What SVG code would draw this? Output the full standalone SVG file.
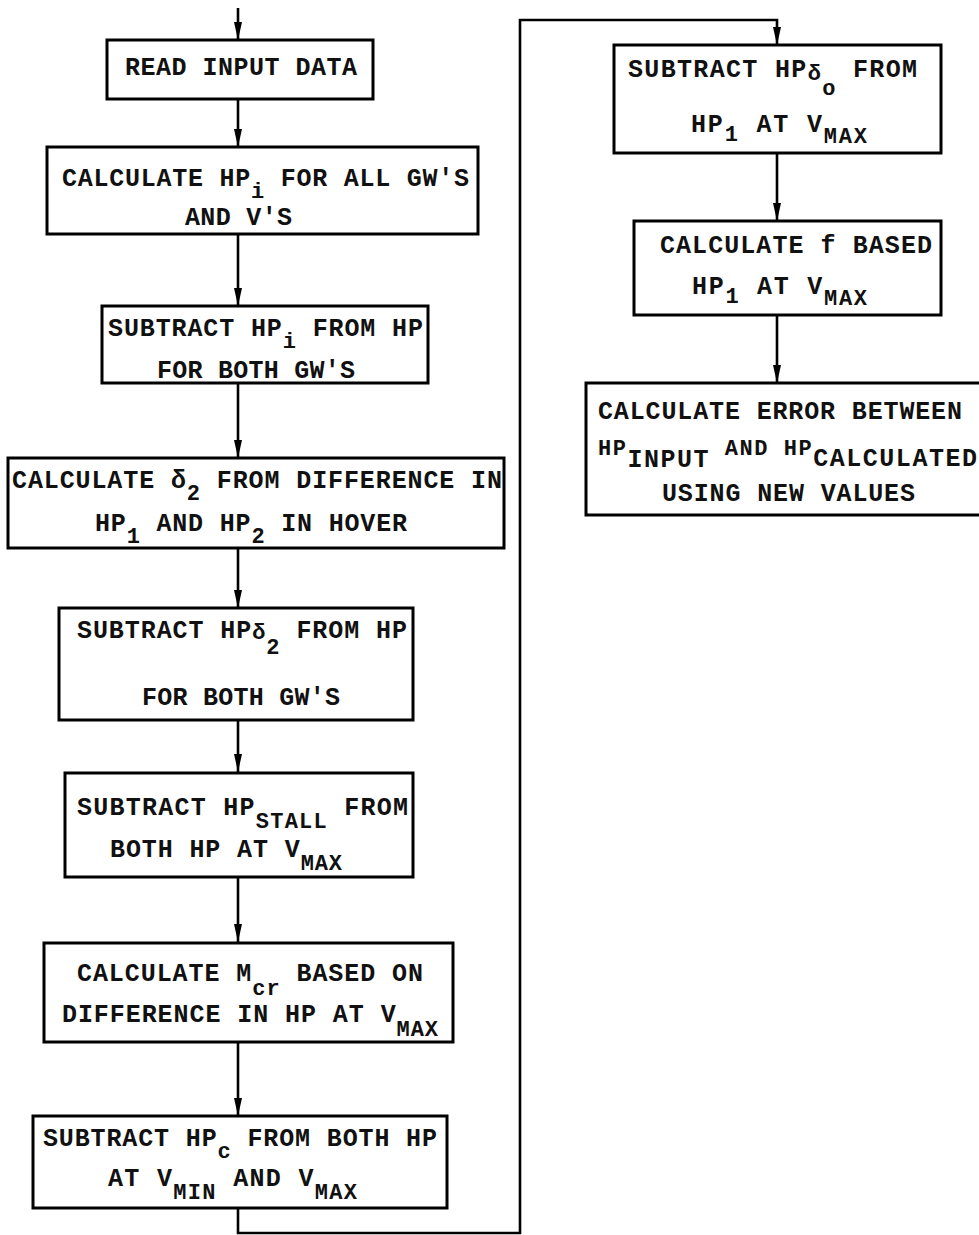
<svg xmlns="http://www.w3.org/2000/svg" width="979" height="1235" viewBox="0 0 979 1235">
<style>
.box{fill:#fff;stroke:#000;stroke-width:3}
.t{font-family:"Liberation Mono","DejaVu Sans Mono",monospace;font-size:25px;font-weight:bold;fill:#111}
.s{font-size:22px}
.c{fill:none;stroke:#000;stroke-width:2.6}
</style>
<defs>
<marker id="ah" viewBox="0 0 18 8" refX="18" refY="4" markerWidth="18" markerHeight="8" markerUnits="userSpaceOnUse" orient="auto">
<path d="M0,0 L18,4 L0,8 Z" fill="#000"/>
</marker>
</defs>
<rect width="979" height="1235" fill="#fff"/>
<g id="connectors">
<path class="c" d="M238,8 V40" marker-end="url(#ah)"/>
<path class="c" d="M238,99 V147" marker-end="url(#ah)"/>
<path class="c" d="M238,234 V306" marker-end="url(#ah)"/>
<path class="c" d="M238,383 V458" marker-end="url(#ah)"/>
<path class="c" d="M238,548 V608" marker-end="url(#ah)"/>
<path class="c" d="M238,720 V772" marker-end="url(#ah)"/>
<path class="c" d="M238,877 V942" marker-end="url(#ah)"/>
<path class="c" d="M238,1042 V1116" marker-end="url(#ah)"/>
<path class="c" d="M238,1208 V1233 H520 V20 H777 V45" marker-end="url(#ah)"/>
<path class="c" d="M777,153 V221" marker-end="url(#ah)"/>
<path class="c" d="M777,315 V383" marker-end="url(#ah)"/>
</g>
<g id="n1">
<rect class="box" x="107" y="40" width="266" height="59"/>
<text class="t" x="125" y="75" textLength="232">READ INPUT DATA</text>
</g>
<g id="n2">
<rect class="box" x="47" y="147" width="431" height="87"/>
<text class="t" x="62" y="186" textLength="407">CALCULATE HP<tspan class="s" dy="12">i</tspan><tspan dy="-12"> FOR ALL GW'S</tspan></text>
<text class="t" x="185" y="225" textLength="107">AND V'S</text>
</g>
<g id="n3">
<rect class="box" x="102" y="306" width="326" height="77"/>
<text class="t" x="108" y="336" textLength="315">SUBTRACT HP<tspan class="s" dy="12">i</tspan><tspan dy="-12"> FROM HP</tspan></text>
<text class="t" x="157" y="378" textLength="198">FOR BOTH GW'S</text>
</g>
<g id="n4">
<rect class="box" x="8" y="458" width="496" height="90"/>
<text class="t" x="12" y="488" textLength="490">CALCULATE δ<tspan class="s" dy="12">2</tspan><tspan dy="-12"> FROM DIFFERENCE IN</tspan></text>
<text class="t" x="95" y="531" textLength="312">HP<tspan class="s" dy="12">1</tspan><tspan dy="-12"> AND HP</tspan><tspan class="s" dy="12">2</tspan><tspan dy="-12"> IN HOVER</tspan></text>
</g>
<g id="n5">
<rect class="box" x="59" y="608" width="354" height="112"/>
<text class="t" x="77" y="638" textLength="330">SUBTRACT HP<tspan class="s" dy="1">δ</tspan><tspan class="s" dy="15">2</tspan><tspan dy="-16"> FROM HP</tspan></text>
<text class="t" x="142" y="705" textLength="198">FOR BOTH GW'S</text>
</g>
<g id="n6">
<rect class="box" x="65" y="773" width="348" height="104"/>
<text class="t" x="77" y="815" textLength="331">SUBTRACT HP<tspan class="s" dy="13">STALL</tspan><tspan dy="-13"> FROM</tspan></text>
<text class="t" x="110" y="857" textLength="232">BOTH HP AT V<tspan class="s" dy="13">MAX</tspan></text>
</g>
<g id="n7">
<rect class="box" x="44" y="943" width="409" height="99"/>
<text class="t" x="77" y="981" textLength="346">CALCULATE M<tspan class="s" dy="14">cr</tspan><tspan dy="-14"> BASED ON</tspan></text>
<text class="t" x="62" y="1022" textLength="376">DIFFERENCE IN HP AT V<tspan class="s" dy="14">MAX</tspan></text>
</g>
<g id="n8">
<rect class="box" x="33" y="1116" width="414" height="92"/>
<text class="t" x="43" y="1146" textLength="394">SUBTRACT HP<tspan class="s" dy="12">c</tspan><tspan dy="-12"> FROM BOTH HP</tspan></text>
<text class="t" x="108" y="1186" textLength="249">AT V<tspan class="s" dy="13">MIN</tspan><tspan dy="-13"> AND V</tspan><tspan class="s" dy="13">MAX</tspan></text>
</g>
<g id="n9">
<rect class="box" x="614" y="45" width="327" height="108"/>
<text class="t" x="628" y="77" textLength="289">SUBTRACT HP<tspan class="s" dy="3">δ</tspan><tspan class="s" dy="15">o</tspan><tspan dy="-18"> FROM</tspan></text>
<text class="t" x="691" y="132" textLength="176">HP<tspan class="s" dy="9">1</tspan><tspan dy="-9"> AT V</tspan><tspan class="s" dy="11">MAX</tspan></text>
</g>
<g id="n10">
<rect class="box" x="634" y="221" width="307" height="94"/>
<text class="t" x="660" y="253" textLength="272">CALCULATE f BASED</text>
<text class="t" x="692" y="294" textLength="175">HP<tspan class="s" dy="9">1</tspan><tspan dy="-9"> AT V</tspan><tspan class="s" dy="11">MAX</tspan></text>
</g>
<g id="n11">
<rect class="box" x="586" y="383" width="400" height="132"/>
<text class="t" x="598" y="419" textLength="364">CALCULATE ERROR BETWEEN</text>
<text class="t" x="598" y="455" textLength="379"><tspan class="s">HP</tspan><tspan dy="12">INPUT</tspan><tspan class="s" dy="-12"> AND HP</tspan><tspan dy="11">CALCULATED</tspan></text>
<text class="t" x="662" y="501" textLength="253">USING NEW VALUES</text>
</g>
</svg>
